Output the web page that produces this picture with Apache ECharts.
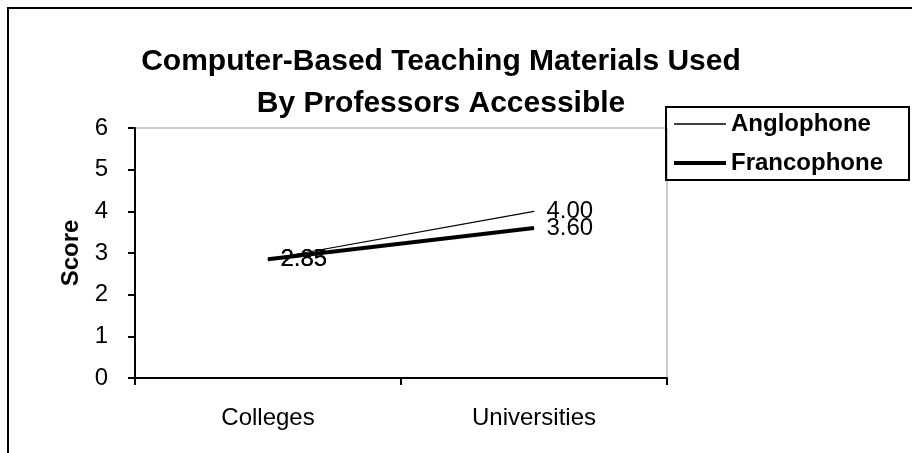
<!DOCTYPE html>
<html>
<head>
<meta charset="utf-8">
<script src="https://cdn.jsdelivr.net/npm/echarts@6/dist/echarts.min.js"></script>
<style>
    html, body { margin: 0; padding: 0; background: #fff; }
    #chart { width: 912px; height: 453px; }
</style>
</head>
<body>
<div id="chart"></div>
<script>
// 数据
const categories = ['Colleges', 'Universities']
const anglophone = [2.85, 4.0]
const francophone = [2.85, 3.6]
const yTicks = [0, 1, 2, 3, 4, 5, 6]

const font = 'Liberation Sans, Arial, sans-serif'
const chart = echarts.init(document.getElementById('chart'))

const valueLabel = {
    show: true,
    position: 'right',
    distance: 12,
    formatter: (p) => p.value.toFixed(2),
    fontFamily: font,
    fontSize: 24,
    color: '#000'
}

const option = {
    backgroundColor: '#fff',
    animation: false,
    title: {
        text: 'Computer-Based Teaching Materials Used\nBy Professors Accessible',
        left: 436,
        top: 36,
        textAlign: 'center',
        textStyle: {
            fontFamily: font,
            fontWeight: 'bold',
            fontSize: 30,
            lineHeight: 42,
            color: '#000'
        }
    },
    legend: {
        data: [
            { name: 'Anglophone', lineStyle: { width: 1.5 } },
            { name: 'Francophone', lineStyle: { width: 4 } }
        ],
        orient: 'vertical',
        left: 666,
        top: 107,
        padding: [5, 26, 5, 6],
        itemGap: 15,
        itemWidth: 52,
        itemHeight: 26,
        borderColor: '#000',
        borderWidth: 2,
        itemStyle: { opacity: 0 },
        textStyle: {
            fontFamily: font,
            fontWeight: 'bold',
            fontSize: 24,
            color: '#000'
        }
    },
    grid: {
        left: 135,
        right: 245,
        top: 128,
        bottom: 75,
        show: true,
        borderColor: '#999',
        borderWidth: 1
    },
    xAxis: {
        type: 'category',
        data: categories,
        boundaryGap: true,
        axisLine: { lineStyle: { color: '#000', width: 2 } },
        axisTick: { show: true, length: 7, lineStyle: { color: '#000', width: 2 } },
        axisLabel: { fontFamily: font, fontSize: 24, color: '#000', margin: 28 },
        splitLine: { show: false }
    },
    yAxis: {
        type: 'value',
        min: yTicks[0],
        max: yTicks[yTicks.length - 1],
        interval: 1,
        name: 'Score',
        nameLocation: 'middle',
        nameGap: 50,
        nameTextStyle: { fontFamily: font, fontWeight: 'bold', fontSize: 24, color: '#000' },
        axisLine: { show: true, lineStyle: { color: '#000', width: 2 } },
        axisTick: { show: true, length: 7, lineStyle: { color: '#000', width: 2 } },
        axisLabel: { fontFamily: font, fontSize: 24, color: '#000', margin: 27 },
        splitLine: { show: false }
    },
    series: [
        {
            name: 'Anglophone',
            type: 'line',
            data: anglophone,
            symbol: 'circle',
            symbolSize: 1,
            lineStyle: { color: '#000', width: 1.2 },
            itemStyle: { color: '#000' },
            label: valueLabel
        },
        {
            name: 'Francophone',
            type: 'line',
            data: francophone,
            symbol: 'circle',
            symbolSize: 1,
            lineStyle: { color: '#000', width: 4 },
            itemStyle: { color: '#000' },
            label: valueLabel
        }
    ],
    graphic: [
        {
            type: 'rect',
            shape: { x: 8, y: 8, width: 910, height: 450 },
            style: { fill: 'none', stroke: '#000', lineWidth: 2 }
        }
    ]
}
chart.setOption(option)
</script>
</body>
</html>
